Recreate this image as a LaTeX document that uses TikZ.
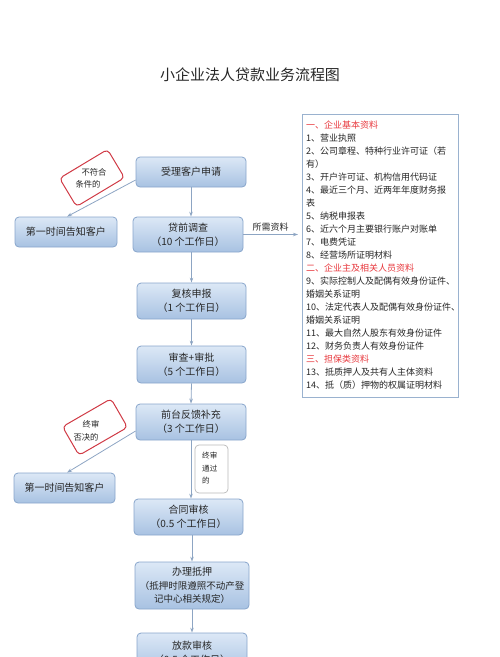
\documentclass[tikz,border=0pt]{standalone}
\usepackage{fontspec}
\setmainfont{Noto Sans CJK SC}
\usetikzlibrary{arrows.meta,calc}
\definecolor{boxtop}{HTML}{DCE8F6}
\definecolor{boxbot}{HTML}{A8C2E2}
\definecolor{boxline}{HTML}{88A5CB}
\definecolor{arrowc}{HTML}{8DA5C3}
\definecolor{redline}{HTML}{D03A45}
\definecolor{redtext}{HTML}{E8383D}
\definecolor{listline}{HTML}{9AB2CF}
\definecolor{txt}{HTML}{262626}
\begin{document}
\begin{tikzpicture}[x=1pt,y=-1pt,
  flow/.style={rectangle,rounded corners=4pt,draw=boxline,line width=0.8pt,
    top color=boxtop,bottom color=boxbot,align=center,text=txt,
    font=\fontsize{10}{14}\selectfont,inner sep=1pt},
  conn/.style={draw=arrowc,line width=0.8pt,-{Stealth[length=5pt,width=3.5pt]}},
  redbox/.style={rectangle,rounded corners=4pt,draw=redline,line width=1pt,fill=white,
    minimum width=56pt,minimum height=33pt,inner sep=0pt},
  small/.style={font=\fontsize{8.3}{10}\selectfont,text=txt,inner sep=0pt},
  listtxt/.style={font=\fontsize{9}{10}\selectfont,text=txt,anchor=west,inner sep=0pt}]
\useasboundingbox (0,0) rectangle (500,657);
\clip (0,0) rectangle (500,657);

\node[font=\fontsize{15}{18}\selectfont,text=txt] (title) at (250,75) {小企业法人贷款业务流程图};

% main flow
\node[flow,minimum width=110pt,minimum height=30pt] (b1) at (191,172) {受理客户申请};
\node[flow,minimum width=110pt,minimum height=35pt] (b2) at (188,234.5) {贷前调查\\（10 个工作日）};
\node[flow,minimum width=109pt,minimum height=36pt] (b3) at (191.5,301) {复核申报\\（1 个工作日）};
\node[flow,minimum width=109pt,minimum height=37pt] (b4) at (191.5,364.5) {审查+审批\\（5 个工作日）};
\node[flow,minimum width=110pt,minimum height=36pt] (b5) at (191,422) {前台反馈补充\\（3 个工作日）};
\node[flow,minimum width=109pt,minimum height=36pt] (b6) at (188.5,517) {合同审核\\（0.5 个工作日）};
\node[flow,minimum width=114pt,minimum height=47pt,font=\fontsize{9.5}{13.5}\selectfont] (b7) at (192,585.5) {\fontsize{10}{13.5}\selectfont 办理抵押\\（抵押时限遵照不动产登\\记中心相关规定）};
\node[flow,minimum width=110pt,minimum height=40pt] (b8) at (192,653) {放款审核\\（0.5 个工作日）};

\node[flow,minimum width=102pt,minimum height=30pt] (l1) at (66,232) {第一时间告知客户};
\node[flow,minimum width=101pt,minimum height=30pt] (l2) at (64.5,488) {第一时间告知客户};

% red boxes
\node[redbox,rotate=31] (r1) at (92,178) {};
\node[small] (r1a) at (94,172) {不符合};
\node[small] (r1b) at (88,184) {条件的};
\node[redbox,rotate=30] (r2) at (95,427) {};
\node[small] (r2a) at (91,424) {终审};
\node[small] (r2b) at (86,437) {否决的};

% pass label
\node[rectangle,rounded corners=4pt,draw=gray!55,line width=0.7pt,fill=white,
  minimum width=33pt,minimum height=48pt] (pass) at (211.5,469) {};
\node[small,anchor=west,font=\fontsize{7.6}{9}\selectfont] (pa) at (202,456) {终审};
\node[small,anchor=west,font=\fontsize{7.6}{9}\selectfont] (pb) at (202,468.5) {通过};
\node[small,anchor=west,font=\fontsize{7.6}{9}\selectfont] (pc) at (202,481) {的};

% list box
\node[rectangle,draw=listline,line width=0.8pt,fill=white,minimum width=156pt,
  minimum height=283pt,anchor=north west] (list) at (302,114) {};
\foreach \t [count=\i] in {
  {\textcolor{redtext}{一、企业基本资料}},
  {1、营业执照},
  {2、公司章程、特种行业许可证（若},
  {有）},
  {3、开户许可证、机构信用代码证},
  {4、最近三个月、近两年年度财务报},
  {表},
  {5、纳税申报表},
  {6、近六个月主要银行账户对账单},
  {7、电费凭证},
  {8、经营场所证明材料},
  {\textcolor{redtext}{二、企业主及相关人员资料}},
  {9、实际控制人及配偶有效身份证件、},
  {婚姻关系证明},
  {10、法定代表人及配偶有效身份证件、},
  {婚姻关系证明},
  {11、最大自然人股东有效身份证件},
  {12、财务负责人有效身份证件},
  {\textcolor{redtext}{三、担保类资料}},
  {13、抵质押人及共有人主体资料},
  {14、抵（质）押物的权属证明材料}}
  \node[listtxt] (li\i) at (306,{125+13*(\i-1)}) {\t};

% connectors
\coordinate (need) at (298,234.5);
\draw[conn] (b1.south) -- (b1.south |- b2.north);
\draw[conn] (b2.east) -- node[above=3pt,font=\fontsize{9}{10}\selectfont,text=txt,inner sep=0pt] (needlbl) {所需资料} (need);
\draw[conn] (b2.south -| b3.north) -- (b3.north);
\draw[conn] (b3.south) -- (b4.north);
\draw[conn] (b4.south) -- (b5.north);
\draw[conn] (b5.south) -- (b5.south |- b6.north);
\draw[conn] (b6.south -| b7.north) -- (b7.north);
\draw[conn] (b7.south) -- (b7.south |- b8.north);
\draw[conn] ($(b1.west)+(0,8)$) -- ($(l1.north)+(1,0)$);
\draw[conn] ($(b5.west)+(0,9)$) -- ($(l2.north)+(2.5,0)$);
\end{tikzpicture}
\end{document}
